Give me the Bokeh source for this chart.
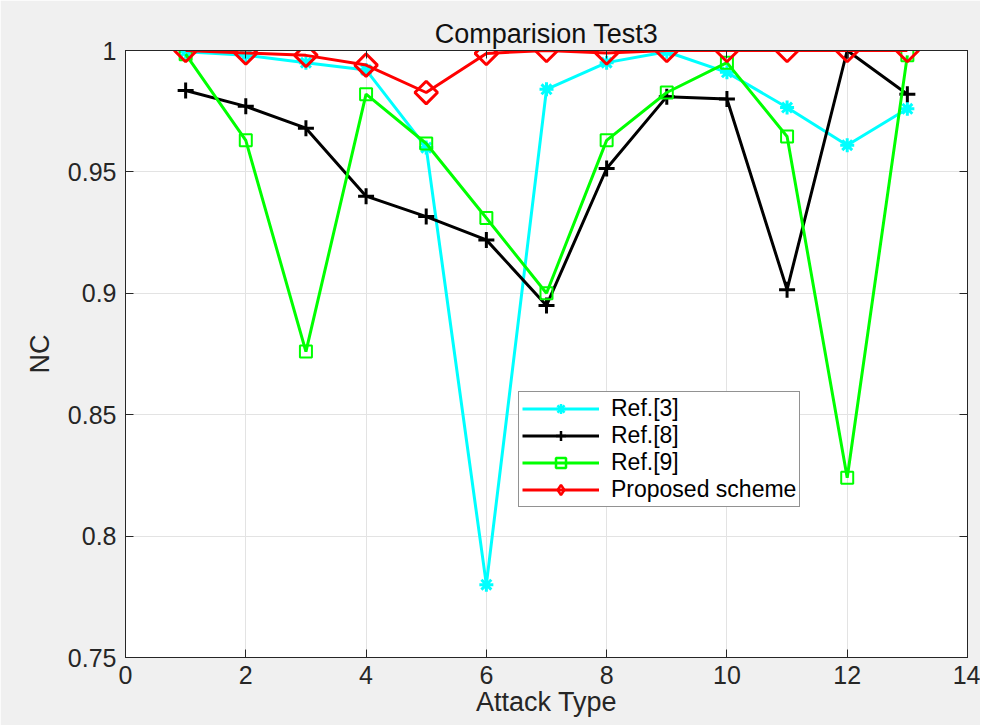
import math
from bokeh.plotting import figure
from bokeh.models import (LinearAxis, Range1d, FixedTicker, Legend, LegendItem,
                          ColumnDataSource)
from bokeh.embed import file_html
from bokeh.resources import INLINE

attack_type = [1, 2, 3, 4, 5, 6, 7, 8, 9, 10, 11, 12, 13]
ref3 = [0.9995, 0.998, 0.995, 0.992, 0.960, 0.780, 0.984, 0.995, 0.9995, 0.991, 0.9765, 0.961, 0.976]
ref8 = [0.9835, 0.977, 0.968, 0.940, 0.9316, 0.922, 0.895, 0.9514, 0.981, 0.980, 0.9015, 1.0, 0.982]
ref9 = [0.9985, 0.963, 0.876, 0.982, 0.9617, 0.931, 0.900, 0.963, 0.9827, 0.995, 0.9646, 0.824, 0.998]
proposed = [1.0, 0.999, 0.998, 0.994, 0.9827, 0.9988, 1.0, 0.999, 1.0, 1.0, 1.0, 1.0, 1.0]

x_ticks = [0, 2, 4, 6, 8, 10, 12, 14]
y_ticks = [0.75, 0.8, 0.85, 0.9, 0.95, 1.0]
y_tick_labels = ["0.75", "0.8", "0.85", "0.9", "0.95", "1"]

FONT = "Liberation Sans"
DARK = "#262626"

p = figure(width=980, height=725, x_range=Range1d(0, 14), y_range=Range1d(0.75, 1.0),
           output_backend="svg", toolbar_location=None,
           min_border_left=125, min_border_right=13, min_border_top=50, min_border_bottom=68,
           title="Comparision Test3")
# off-screen range: renderers on it only supply legend swatches
p.extra_y_ranges = {"legend_only": Range1d(10, 11)}
p.background_fill_color = "white"
p.border_fill_color = "#f0f0f0"
p.outline_line_color = DARK
p.outline_line_width = 1

p.title.align = "center"
p.title.text_font = FONT
p.title.text_font_size = "27px"
p.title.text_font_style = "normal"
p.title.text_color = "#111111"
p.title.standoff = 3

for ax in (p.xaxis[0], p.yaxis[0]):
    ax.axis_line_color = DARK
    ax.major_tick_line_color = DARK
    ax.major_tick_in = 8
    ax.major_tick_out = 0
    ax.minor_tick_line_color = None
    ax.major_label_text_font = FONT
    ax.major_label_text_font_size = "25px"
    ax.major_label_text_color = DARK
    ax.axis_label_text_font = FONT
    ax.axis_label_text_font_size = "27px"
    ax.axis_label_text_font_style = "normal"
    ax.axis_label_text_color = DARK

p.xaxis[0].ticker = FixedTicker(ticks=x_ticks)
p.yaxis[0].ticker = FixedTicker(ticks=y_ticks)
p.yaxis[0].major_label_overrides = {t: l for t, l in zip(y_ticks, y_tick_labels)}
p.xaxis[0].axis_label = "Attack Type"
p.yaxis[0].axis_label = "NC"
p.xaxis[0].major_label_standoff = 8
p.yaxis[0].major_label_standoff = 9
p.xaxis[0].axis_label_standoff = 0
p.yaxis[0].axis_label_standoff = 10

top = LinearAxis(ticker=FixedTicker(ticks=x_ticks), major_label_text_font_size="0px",
                 major_label_standoff=0, axis_line_color=DARK, major_tick_line_color=DARK,
                 major_tick_in=8, major_tick_out=0, minor_tick_line_color=None)
right = LinearAxis(ticker=FixedTicker(ticks=y_ticks), major_label_text_font_size="0px",
                   major_label_standoff=0, axis_line_color=DARK, major_tick_line_color=DARK,
                   major_tick_in=8, major_tick_out=0, minor_tick_line_color=None)
p.add_layout(top, "above")
p.add_layout(right, "right")

p.xgrid.ticker = FixedTicker(ticks=x_ticks)
p.ygrid.ticker = FixedTicker(ticks=y_ticks)
p.xgrid.grid_line_color = "#e3e3e3"
p.ygrid.grid_line_color = "#e3e3e3"

series = [
    ("Ref.[3]", ref3, "#00ffff", "asterisk", 14, 3, 0.0, "asterisk"),
    ("Ref.[8]", ref8, "#000000", "cross", 16, 3, 0.0, "cross"),
    ("Ref.[9]", ref9, "#00ff00", "square", 12, 2, 0.0, "square"),
    ("Proposed scheme", proposed, "#ff0000", "square", 16, 3, math.pi / 4, "diamond"),
]
items = []
for label, vals, color, marker, size, mlw, ang, lmarker in series:
    src = ColumnDataSource(data=dict(x=attack_type, y=vals))
    ln = p.line("x", "y", source=src, line_color=color, line_width=3)
    p.scatter("x", "y", source=src, marker=marker, size=size, angle=ang, line_color=color,
              fill_color=None, line_width=mlw)
    lsc = p.scatter("x", "y", source=src, y_range_name="legend_only",
                    marker=lmarker, size=size, line_color=color,
                    fill_color=None, line_width=2.5)
    items.append(LegendItem(label=label, renderers=[ln, lsc]))

lg = Legend(items=items, location=(393, 150))
lg.label_text_font = FONT
lg.label_text_font_size = "23px"
lg.label_text_color = "#000000"
lg.glyph_width = 77
lg.glyph_height = 25
lg.label_height = 25
lg.spacing = 0
lg.padding = 3
lg.margin = 0
lg.label_standoff = 12
lg.border_line_color = DARK
lg.border_line_width = 1
lg.background_fill_color = "white"
lg.background_fill_alpha = 1.0
p.add_layout(lg, "center")

open("out.html", "w").write(file_html(p, INLINE))
